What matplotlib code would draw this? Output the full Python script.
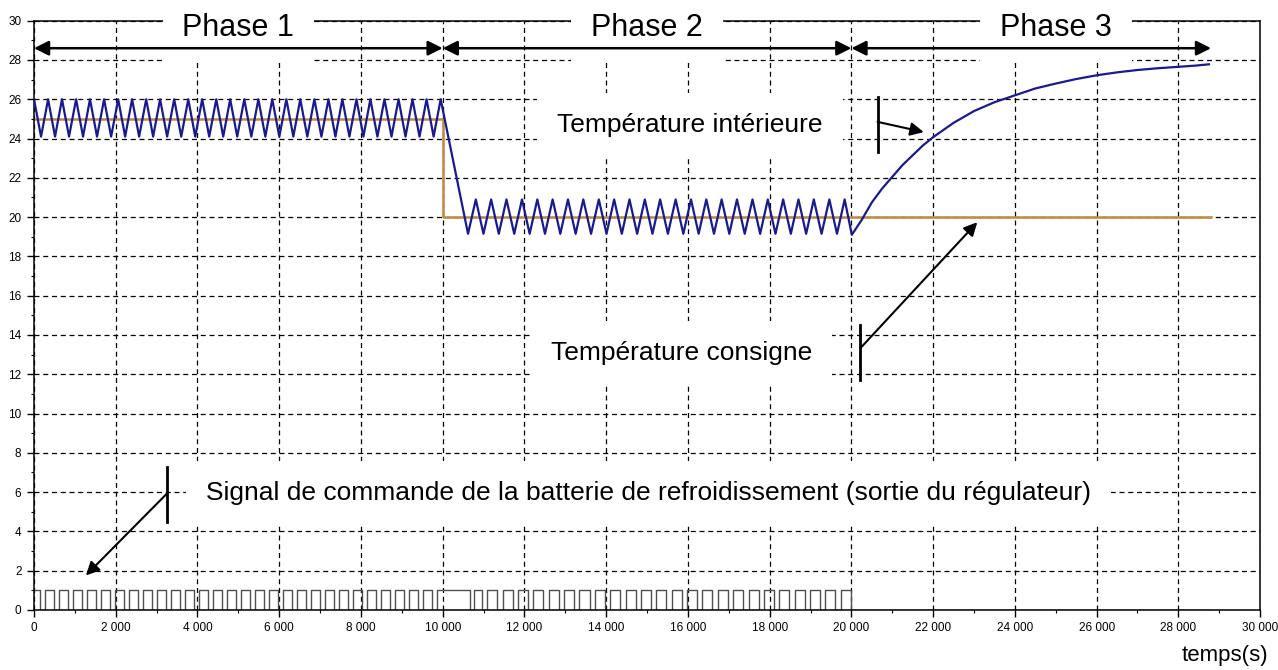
import matplotlib.pyplot as plt
import matplotlib.ticker as mticker
import numpy as np

plt.rcParams['font.family'] = ['Liberation Sans', 'DejaVu Sans']

# --- data ----------------------------------------------------------------
# setpoint (consigne)
consigne_t = [0, 10000, 10000, 28800]
consigne_T = [25, 25, 20, 20]

# interior temperature: peak times of the oscillation in phase 1 and 2
phase1_peaks = [0, 345, 685, 1030, 1370, 1715, 2060, 2400, 2745, 3085,
                3430, 3775, 4115, 4460, 4800, 5145, 5490, 5830, 6175, 6515,
                6860, 7205, 7545, 7890, 8230, 8575, 8920, 9260, 9605, 9950]
phase1_high, phase1_low = 26.0, 24.1
phase2_first_trough = 10620
phase2_peaks = [10810, 11185, 11560, 11940, 12315, 12690, 13065, 13440,
                13820, 14195, 14570, 14945, 15320, 15700, 16075, 16450,
                16825, 17200, 17580, 17955, 18330, 18705, 19080, 19460, 19835]
phase2_high, phase2_low = 20.9, 19.15
# phase 3: free rise of temperature (no cooling)
phase3_t = [20010, 20250, 20500, 20750, 21000, 21250, 21500, 21750, 22000,
            22500, 23000, 23500, 24000, 24500, 25000, 25500, 26000, 26500,
            27000, 27500, 28000, 28400, 28750]
phase3_T = [19.1, 19.85, 20.75, 21.45, 22.05, 22.65, 23.15, 23.65, 24.07,
            24.8, 25.4, 25.85, 26.2, 26.55, 26.8, 27.03, 27.22, 27.37,
            27.49, 27.58, 27.65, 27.71, 27.78]

# command signal (0/1)
cmd_full_on = (10000, 10680)
cmd_off_fraction = 0.35
cmd_end = 28740

# --- build series --------------------------------------------------------
t_int, T_int = [], []
for k, p in enumerate(phase1_peaks):
    t_int.append(p); T_int.append(phase1_high)
    if k < len(phase1_peaks) - 1:
        t_int.append((p + phase1_peaks[k + 1]) / 2); T_int.append(phase1_low)
t_int.append(phase2_first_trough); T_int.append(phase2_low)
for k, p in enumerate(phase2_peaks):
    t_int.append(p); T_int.append(phase2_high)
    if k < len(phase2_peaks) - 1:
        t_int.append((p + phase2_peaks[k + 1]) / 2); T_int.append(phase2_low)
t_int += phase3_t
T_int += phase3_T

# command: low for a fraction of each period, around the troughs
cmd_t, cmd_v = [0], [1]
P1 = np.diff(phase1_peaks).mean()
for k in range(len(phase1_peaks) - 1):
    tr = (phase1_peaks[k] + phase1_peaks[k + 1]) / 2
    cmd_t += [tr - 0.1 * P1, tr + (cmd_off_fraction - 0.1) * P1]
    cmd_v += [0, 1]
cmd_t.append(cmd_full_on[0]); cmd_v.append(1)
cmd_t.append(cmd_full_on[1]); cmd_v.append(0)
P2 = np.diff(phase2_peaks).mean()
cmd_t.append(cmd_full_on[1] + 0.2 * P2); cmd_v.append(1)
for k in range(len(phase2_peaks) - 1):
    tr = (phase2_peaks[k] + phase2_peaks[k + 1]) / 2
    cmd_t += [tr - 0.1 * P2, tr + (cmd_off_fraction - 0.1) * P2]
    cmd_v += [0, 1]
cmd_t += [20000, cmd_end]
cmd_v += [0, 0]

# --- figure --------------------------------------------------------------
fig = plt.figure(figsize=(12.78, 6.70), dpi=100)
ax = fig.add_axes([0.0266, 0.0896, 0.9594, 0.8795])

ax.step(cmd_t, cmd_v, where='post', color='#505050', lw=1.0, zorder=2.4)
ax.plot(consigne_t, consigne_T, color='#c08a3e', lw=1.8, zorder=2.5)
ax.plot(t_int, T_int, color='#1a1a90', lw=1.6, zorder=2.6)

ax.set_xlim(0, 30000)
ax.set_ylim(0, 30)
ax.xaxis.set_major_locator(mticker.MultipleLocator(2000))
ax.xaxis.set_minor_locator(mticker.MultipleLocator(1000))
ax.yaxis.set_major_locator(mticker.MultipleLocator(2))
ax.yaxis.set_minor_locator(mticker.MultipleLocator(1))
ax.xaxis.set_major_formatter(mticker.FuncFormatter(
    lambda v, pos: f"{int(v):,}".replace(',', ' ')))
ax.tick_params(which='major', direction='out', length=5, width=1,
               labelsize=8.5, pad=4, colors='black')
ax.tick_params(which='minor', direction='out', length=2.5, width=0.8)
ax.set_axisbelow(True)
ax.grid(True, which='major', color='black', lw=0.9, linestyle=(0, (4, 3)))
for s in ax.spines.values():
    s.set_linewidth(1.1)

box = dict(boxstyle='square,pad=0.65', fc='white', ec='none')
for label, xc in [('Phase 1', 5000), ('Phase 2', 15000), ('Phase 3', 25000)]:
    ax.text(xc, 29.65, label, ha='center', va='center', fontsize=22,
            bbox=box, zorder=3)

arrow_kw = dict(arrowstyle='<|-|>', color='black', lw=1.8,
                mutation_scale=22, shrinkA=0, shrinkB=0)
for x0, x1 in [(0, 10000), (10000, 20000), (20000, 28800)]:
    ax.annotate('', xy=(x1, 28.6), xytext=(x0, 28.6),
                arrowprops=arrow_kw, zorder=4)

lbl_box = dict(boxstyle='square,pad=0.75', fc='white', ec='none')
ax.text(16050, 24.7, 'Température intérieure', ha='center', va='center',
        fontsize=19, bbox=lbl_box, zorder=3)
ax.text(15850, 13.1, 'Température consigne', ha='center', va='center',
        fontsize=19, bbox=lbl_box, zorder=3)
ax.text(15030, 5.95,
        'Signal de commande de la batterie de refroidissement (sortie du régulateur)',
        ha='center', va='center', fontsize=19, bbox=lbl_box, zorder=3)

# pointer marks: short vertical bar + arrow
pointers = [
    (20640, 26.1, 23.3, 24.85, (21770, 24.33)),
    (20220, 14.5, 11.7, 13.33, (23080, 19.74)),
    (3260, 7.26, 4.46, 5.94, (1270, 1.76)),
]
for xb, y0, y1, ya, tip in pointers:
    ax.plot([xb, xb], [y0, y1], color='black', lw=2, zorder=4)
    ax.annotate('', xy=tip, xytext=(xb, ya),
                arrowprops=dict(arrowstyle='-|>', color='black', lw=1.5,
                                mutation_scale=20, shrinkA=0, shrinkB=0),
                zorder=4)

fig.text(0.992, 0.022, 'temps(s)', ha='right', va='center', fontsize=16)

fig.savefig('out.png', dpi=100, facecolor='white')
